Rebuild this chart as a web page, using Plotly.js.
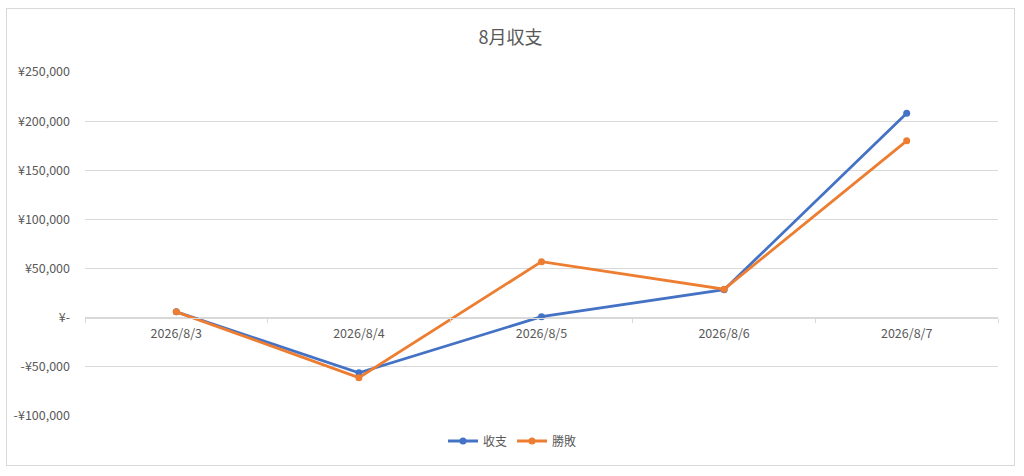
<!DOCTYPE html>
<html>
<head>
<meta charset="utf-8">
<script src="https://cdn.plot.ly/plotly-3.0.1.min.js"></script>
<style>
  html, body { margin: 0; padding: 0; background: #ffffff; width: 1024px; height: 476px; overflow: hidden; }
  #frame { position: absolute; left: 6px; top: 8px; width: 1009px; height: 458px; border: 1px solid #d9d9d9; box-sizing: border-box; }
  #chart { width: 1007px; height: 456px; }
</style>
</head>
<body>
<div id="frame"><div id="chart"></div></div>
<script>
const categories = ["2026/8/3", "2026/8/4", "2026/8/5", "2026/8/6", "2026/8/7"];
const seriesNames = ["收支", "勝敗"];
const income = [6000, -56000, 1000, 28500, 208000];
const winLoss = [6000, -61000, 57000, 29000, 180000];
const yTickValues = [-100000, -50000, 0, 50000, 100000, 150000, 200000, 250000];
const yTickLabels = ["-¥100,000", "-¥50,000", "¥-", "¥50,000", "¥100,000", "¥150,000", "¥200,000", "¥250,000"];
const chartTitle = "8月収支";

const yMin = -100000, yMax = 250000;
const font = "'Noto Sans CJK JP', 'Noto Sans', sans-serif";
const grey = "#595959";

const traces = [
  { x: categories, y: income, name: seriesNames[0], type: "scatter", mode: "lines+markers",
    line: { color: "#4472C4", width: 2.8 }, marker: { color: "#4472C4", size: 7 } },
  { x: categories, y: winLoss, name: seriesNames[1], type: "scatter", mode: "lines+markers",
    line: { color: "#ED7D31", width: 2.8 }, marker: { color: "#ED7D31", size: 7 } }
];

const layout = {
  width: 1007, height: 456,
  margin: { l: 78, r: 16, t: 63, b: 49, autoexpand: false },
  paper_bgcolor: "#ffffff", plot_bgcolor: "#ffffff",
  font: { family: font, color: grey, size: 12 },
  title: { text: chartTitle, x: 0.5, xanchor: "center", yref: "container", y: 1 - 29 / 456, yanchor: "middle",
           font: { family: font, size: 18, color: grey } },
  showlegend: true,
  legend: { orientation: "h", xref: "container", x: 436 / 1007, xanchor: "left",
            yref: "container", y: 1 - 432 / 456, yanchor: "middle",
            font: { family: font, size: 12, color: grey }, itemwidth: 30, tracegroupgap: 0 },
  xaxis: {
    type: "category", range: [-0.5, categories.length - 0.5],
    anchor: "free", position: (0 - yMin) / (yMax - yMin),
    showgrid: false, showline: true, linecolor: "#d9d9d9", linewidth: 1,
    ticks: "outside", tickson: "boundaries", ticklen: 4, tickcolor: "#d9d9d9",
    ticklabelstandoff: 4,
    tickfont: { family: font, size: 12.5, color: grey }, zeroline: false
  },
  yaxis: {
    range: [yMin, yMax], tickvals: yTickValues, ticktext: yTickLabels,
    showgrid: true, gridcolor: "#d9d9d9", gridwidth: 1, zeroline: false, showline: false,
    ticks: "", ticklabelstandoff: 14,
    tickfont: { family: font, size: 12.5, color: grey }
  }
};

Plotly.newPlot("chart", traces, layout, { displayModeBar: false, staticPlot: true });
</script>
</body>
</html>
